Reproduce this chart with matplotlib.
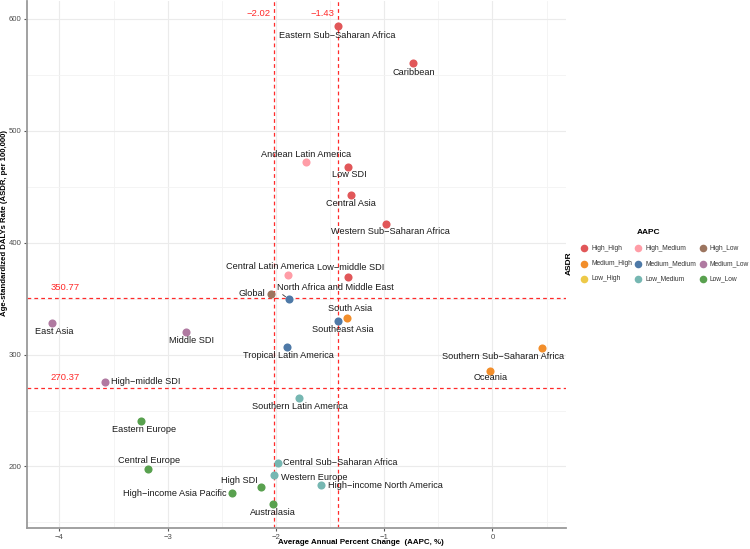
import matplotlib
matplotlib.use("Agg")
import matplotlib.pyplot as plt

plt.rcParams['font.family'] = ['Liberation Sans', 'DejaVu Sans']

M = "\u2212"
names = [
    "Eastern Sub" + M + "Saharan Africa", "Caribbean", "Andean Latin America", "Low SDI",
    "Central Asia", "Western Sub" + M + "Saharan Africa", "Central Latin America",
    "Low" + M + "middle SDI", "Global", "North Africa and Middle East", "South Asia",
    "Southeast Asia", "East Asia", "Middle SDI", "Tropical Latin America",
    "Southern Sub" + M + "Saharan Africa", "Oceania", "High" + M + "middle SDI",
    "Southern Latin America", "Eastern Europe", "Central Europe",
    "Central Sub" + M + "Saharan Africa", "Western Europe",
    "High" + M + "income North America", "High SDI",
    "High" + M + "income Asia Pacific", "Australasia",
]
aapc = [-1.43, -0.73, -1.72, -1.33, -1.31, -0.98, -1.89, -1.33, -2.05, -1.88, -1.34,
        -1.43, -4.07, -2.83, -1.90, 0.46, -0.02, -3.58, -1.79, -3.25, -3.18,
        -1.98, -2.02, -1.58, -2.14, -2.41, -2.03]
asdr = [594, 561, 472, 468, 442.5, 417, 371, 369.5, 354.5, 349.4, 332.7,
        330, 328, 320.2, 306.5, 306, 285.4, 275.5, 261, 240.4, 197.6,
        203.2, 192.2, 183.3, 181.8, 176.2, 166.3]
group = ["High_High", "High_High", "High_Medium", "High_High", "High_High", "High_High",
         "High_Medium", "High_High", "High_Low", "Medium_Medium", "Medium_High",
         "Medium_Medium", "Medium_Low", "Medium_Low", "Medium_Medium", "Medium_High",
         "Medium_High", "Medium_Low", "Low_Medium", "Low_Low", "Low_Low",
         "Low_Medium", "Low_Medium", "Low_Medium", "Low_Low", "Low_Low", "Low_Low"]

levels = ["High_High", "High_Medium", "High_Low",
          "Medium_High", "Medium_Medium", "Medium_Low",
          "Low_High", "Low_Medium", "Low_Low"]
colors = {"High_High": "#E15759", "High_Medium": "#FF9DA7", "High_Low": "#9C755F",
          "Medium_High": "#F28E2B", "Medium_Medium": "#4E79A7", "Medium_Low": "#B07AA1",
          "Low_High": "#EDC948", "Low_Medium": "#76B7B2", "Low_Low": "#59A14F"}

vline_vals = [-2.02, -1.43]
hline_vals = [350.77, 270.37]

# label offsets in pixels (dx, dy) of label centre from point
offsets = [(0, -10), (0, -10), (0, 8), (1, -8), (0, -8), (4, -8), (-18, 9), (2, 9),
           (-19, 0), (46, 12), (3, 9), (5, -8), (2, -8), (5, -9), (2, -8), (-39, -9),
           (0, -7), (41, 0), (1, -8), (3, -8), (1, 9), (62, 0), (40, -2), (64, 0),
           (-21, 6), (-57, 0), (0, -8)]

RED = '#FF2A2A'
W, H = 750, 549
fig = plt.figure(figsize=(7.5, 5.49), dpi=100)
ax = fig.add_axes([27/W, 1 - 528/H, (566-27)/W, 527/H])
ax.set_xlim(-4.30, 0.68)
ax.set_ylim(145, 616)

ax.set_xticks([-4, -3, -2, -1, 0])
ax.set_xticklabels([M + "4", M + "3", M + "2", M + "1", "0"])
ax.set_yticks([200, 300, 400, 500, 600])
ax.set_xticks([-3.5, -2.5, -1.5, -0.5, 0.5], minor=True)
ax.set_yticks([150, 250, 350, 450, 550], minor=True)
ax.grid(True, which='major', color='#EBEBEB', lw=0.8)
ax.grid(True, which='minor', color='#F3F3F3', lw=0.6)
ax.set_axisbelow(True)
for s in ['top', 'right']:
    ax.spines[s].set_visible(False)
for s in ['left', 'bottom']:
    ax.spines[s].set_color('#9A9A9A')
    ax.spines[s].set_linewidth(1.3)
ax.tick_params(which='major', length=2.5, color='#555555', labelsize=5.6,
               labelcolor='#4D4D4D', pad=1.5)
ax.tick_params(which='minor', length=0)

for v in vline_vals:
    ax.axvline(v, color=RED, ls=(0, (3, 2.5)), lw=0.9, zorder=1)
for h in hline_vals:
    ax.axhline(h, color=RED, ls=(0, (3, 2.5)), lw=0.9, zorder=1)

for v in vline_vals:
    ax.annotate(("%.2f" % v).replace("-", M), (v, 605), xytext=(-3, 0),
                textcoords='offset pixels', color=RED, fontsize=6.8, ha='right', va='center')
for h in hline_vals:
    ax.annotate("%.2f" % h, (-3.95, h), xytext=(0, 10), textcoords='offset pixels',
                color=RED, fontsize=6.8, ha='center', va='center')

for n, x, y, g, (dx, dy) in zip(names, aapc, asdr, group, offsets):
    ax.scatter(x, y, s=34, color=colors[g], zorder=3, linewidths=0)
    if n.startswith("North Africa"):
        ax.annotate(n, (x, y), xytext=(dx, dy), textcoords='offset pixels',
                    ha='center', va='center', fontsize=6.6, color='#1a1a1a',
                    arrowprops=dict(arrowstyle='-', color='#333333', lw=0.6,
                                    shrinkA=0, shrinkB=3,
                                    relpos=(0.0, 0.2)), zorder=4)
    else:
        ax.annotate(n, (x, y), xytext=(dx, dy), textcoords='offset pixels',
                    ha='center', va='center', fontsize=6.6, color='#1a1a1a', zorder=4)

# axis titles
fig.text(361/W, 1 - 543/H, "Average Annual Percent Change  (AAPC, %)", fontsize=5.7,
         fontweight='bold', ha='center', va='center')
fig.text(5/W, 1 - 223/H, "Age-standardized DALYs Rate (ASDR, per 100,000)", fontsize=5.6,
         fontweight='bold', ha='center', va='center', rotation=90)

# legend drawn in a pixel-coordinate overlay (ggplot order, row-wise)
lax = fig.add_axes([0, 0, 1, 1], facecolor='none')
lax.set_xlim(0, W)
lax.set_ylim(H, 0)
lax.axis('off')
col_x = [584, 638, 703]
row_y = [248, 263.5, 279]
for i, lev in enumerate(levels):
    r, c = divmod(i, 3)
    lax.scatter(col_x[c], row_y[r], s=30, color=colors[lev], linewidths=0)
    lax.text(col_x[c] + 7, row_y[r], lev, fontsize=4.8, color='#333333',
             ha='left', va='center')
lax.text(649, 232, "AAPC", fontsize=6.0, fontweight='bold', ha='center', va='center')
lax.text(569, 263, "ASDR", fontsize=6.0, fontweight='bold', ha='center', va='center',
         rotation=90)

fig.savefig("out.png", dpi=100)
